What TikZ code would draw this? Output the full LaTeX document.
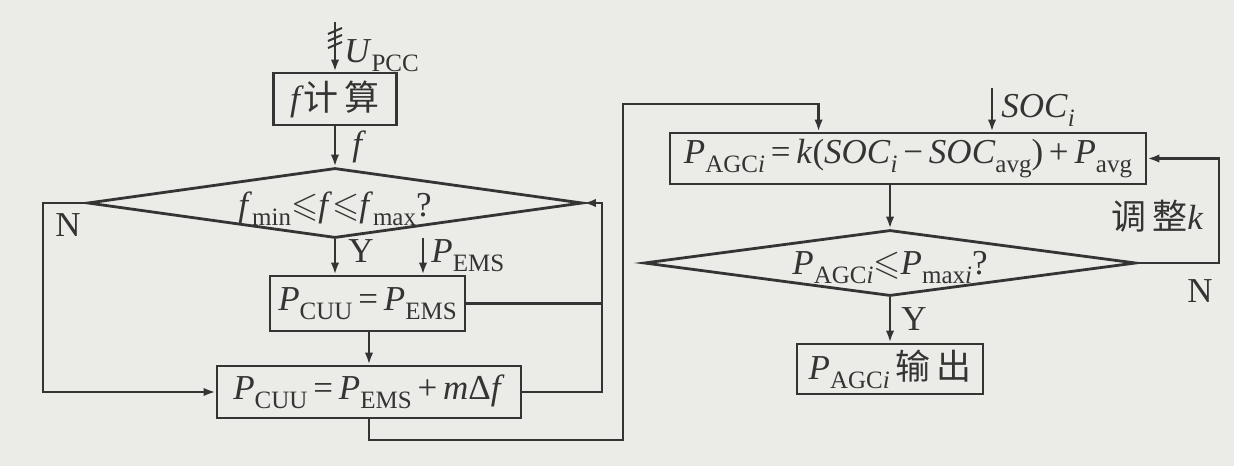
\documentclass[tikz,border=0pt]{standalone}
\usepackage{fontspec}
\usepackage{amssymb}
\setmainfont{Liberation Serif}
\newfontfamily\cjk{Noto Sans CJK SC}
\usetikzlibrary{shapes.geometric,arrows.meta}
\definecolor{bgc}{RGB}{235,235,231}
\definecolor{ink}{RGB}{52,52,52}
\newcommand\sbs[1]{\raisebox{-0.26em}{\fontsize{12.5}{12.5}\selectfont #1}}
\newcommand\vP{\textit{P}}
\begin{document}
\begin{tikzpicture}[x=0.5pt,y=-0.5pt,
  every node/.style={font=\fontsize{17.5}{20}\selectfont, text=ink},
  ln/.style={draw=ink, line width=1.4pt},
  arr/.style={ln, -{Latex[length=6pt,width=4.2pt]}},
  box/.style={ln, rectangle, inner sep=0pt},
  dia/.style={ln, diamond, inner sep=0pt}]
\fill[bgc] (0,0) rectangle (1234,466);
\useasboundingbox (0,0) rectangle (1234,466);

% left column
\node[box, minimum width=61.5pt, minimum height=26pt] (fcalc) at (335,99) {\textit{f}{\cjk 计\,算}};
\node[dia, minimum width=247.5pt, minimum height=35pt] (d1) at (335,203)
  {\makebox[0pt][c]{\raisebox{-6.5pt}[0pt][0pt]{\textit{f}\sbs{min}$\leqslant$\textit{f}$\leqslant$\textit{f}\sbs{max}?}}};
\node[box, minimum width=97.5pt, minimum height=27.5pt] (box1) at (367.5,303.5) {\vP\sbs{CUU}\,=\,\vP\sbs{EMS}};
\node[box, minimum width=152pt, minimum height=26pt] (box2) at (369,392) {\vP\sbs{CUU}\,=\,\vP\sbs{EMS}\,+\,\textit{m}Δ\textit{f}};

% right column
\node[box, minimum width=238pt, minimum height=25.5pt] (box3) at (908,158.5)
  {\vP\sbs{AGC\textit{i}}\,=\,\textit{k}(\textit{SOC}\sbs{\textit{i}}\,−\,\textit{SOC}\sbs{avg})\,+\,\vP\sbs{avg}};
\node[dia, minimum width=246pt, minimum height=33pt] (d2) at (890,263)
  {\makebox[0pt][c]{\raisebox{-5.5pt}[0pt][0pt]{\vP\sbs{AGC\textit{i}}$\leqslant$\vP\sbs{max\textit{i}}?}}};
\node[box, minimum width=93pt, minimum height=25pt] (out) at (890,369) {\vP\sbs{AGC\textit{i}}\,{\cjk 输\,出}};

% inputs
\coordinate (upcc) at (335,22);
\draw[arr] (upcc) -- (fcalc.north);
\foreach \yy in {31,38,45} \draw[ln, line width=1pt] (328,\yy+3) -- (342,\yy-3);
\node[anchor=base west, inner sep=0pt] (lU) at (344,62) {\textit{U}\sbs{PCC}};

\coordinate (pems) at (423,238);
\draw[arr] (pems) -- (pems |- box1.north);
\node[anchor=base west, inner sep=0pt] (lP) at (431,262) {\vP\sbs{EMS}};

\coordinate (soc) at (992,88);
\draw[arr] (soc) -- (soc |- box3.north);
\node[anchor=base west, inner sep=0pt] (lS) at (1001,117) {\textit{SOC}\sbs{\textit{i}}};

% left connectors
\draw[arr] (fcalc.south) -- (d1.north);
\node[anchor=base west, inner sep=0pt] (lf) at (352,155) {\textit{f}};
\draw[arr] (d1.south) -- (box1.north -| d1.south);
\node[anchor=base west, inner sep=0pt] (lY1) at (348,262) {Y};
\draw[arr] (box1.south -| box2.north) -- (box2.north);

\coordinate (nL) at (43,203);
\draw[arr] (d1.west) -- (nL) |- (box2.west);
\node[anchor=base west, inner sep=0pt] (lN1) at (55,236) {N};

\coordinate (rL) at (602,203);
\draw[arr] (box2.east) -| (rL) -- (d1.east);
\draw[ln] (box1.east) -- (box1.east -| rL);

\coordinate (b1) at (369,440);
\coordinate (b2) at (623,104);
\draw[arr] (box2.south) -- (b1) -| (b2) -| ([xshift=75pt]box3.north west);

% right connectors
\draw[arr] (box3.south -| d2.north) -- (d2.north);
\draw[arr] (d2.south) -- (out.north);
\node[anchor=base west, inner sep=0pt] (lY2) at (901,330) {Y};
\coordinate (r2) at (1219,263);
\draw[arr] (d2.east) -- (r2) |- (box3.east);
\node[anchor=base west, inner sep=0pt] (lk) at (1111,229) {{\cjk 调\,整}\textit{k}};
\node[anchor=base west, inner sep=0pt] (lN2) at (1187,302) {N};
\end{tikzpicture}
\end{document}
